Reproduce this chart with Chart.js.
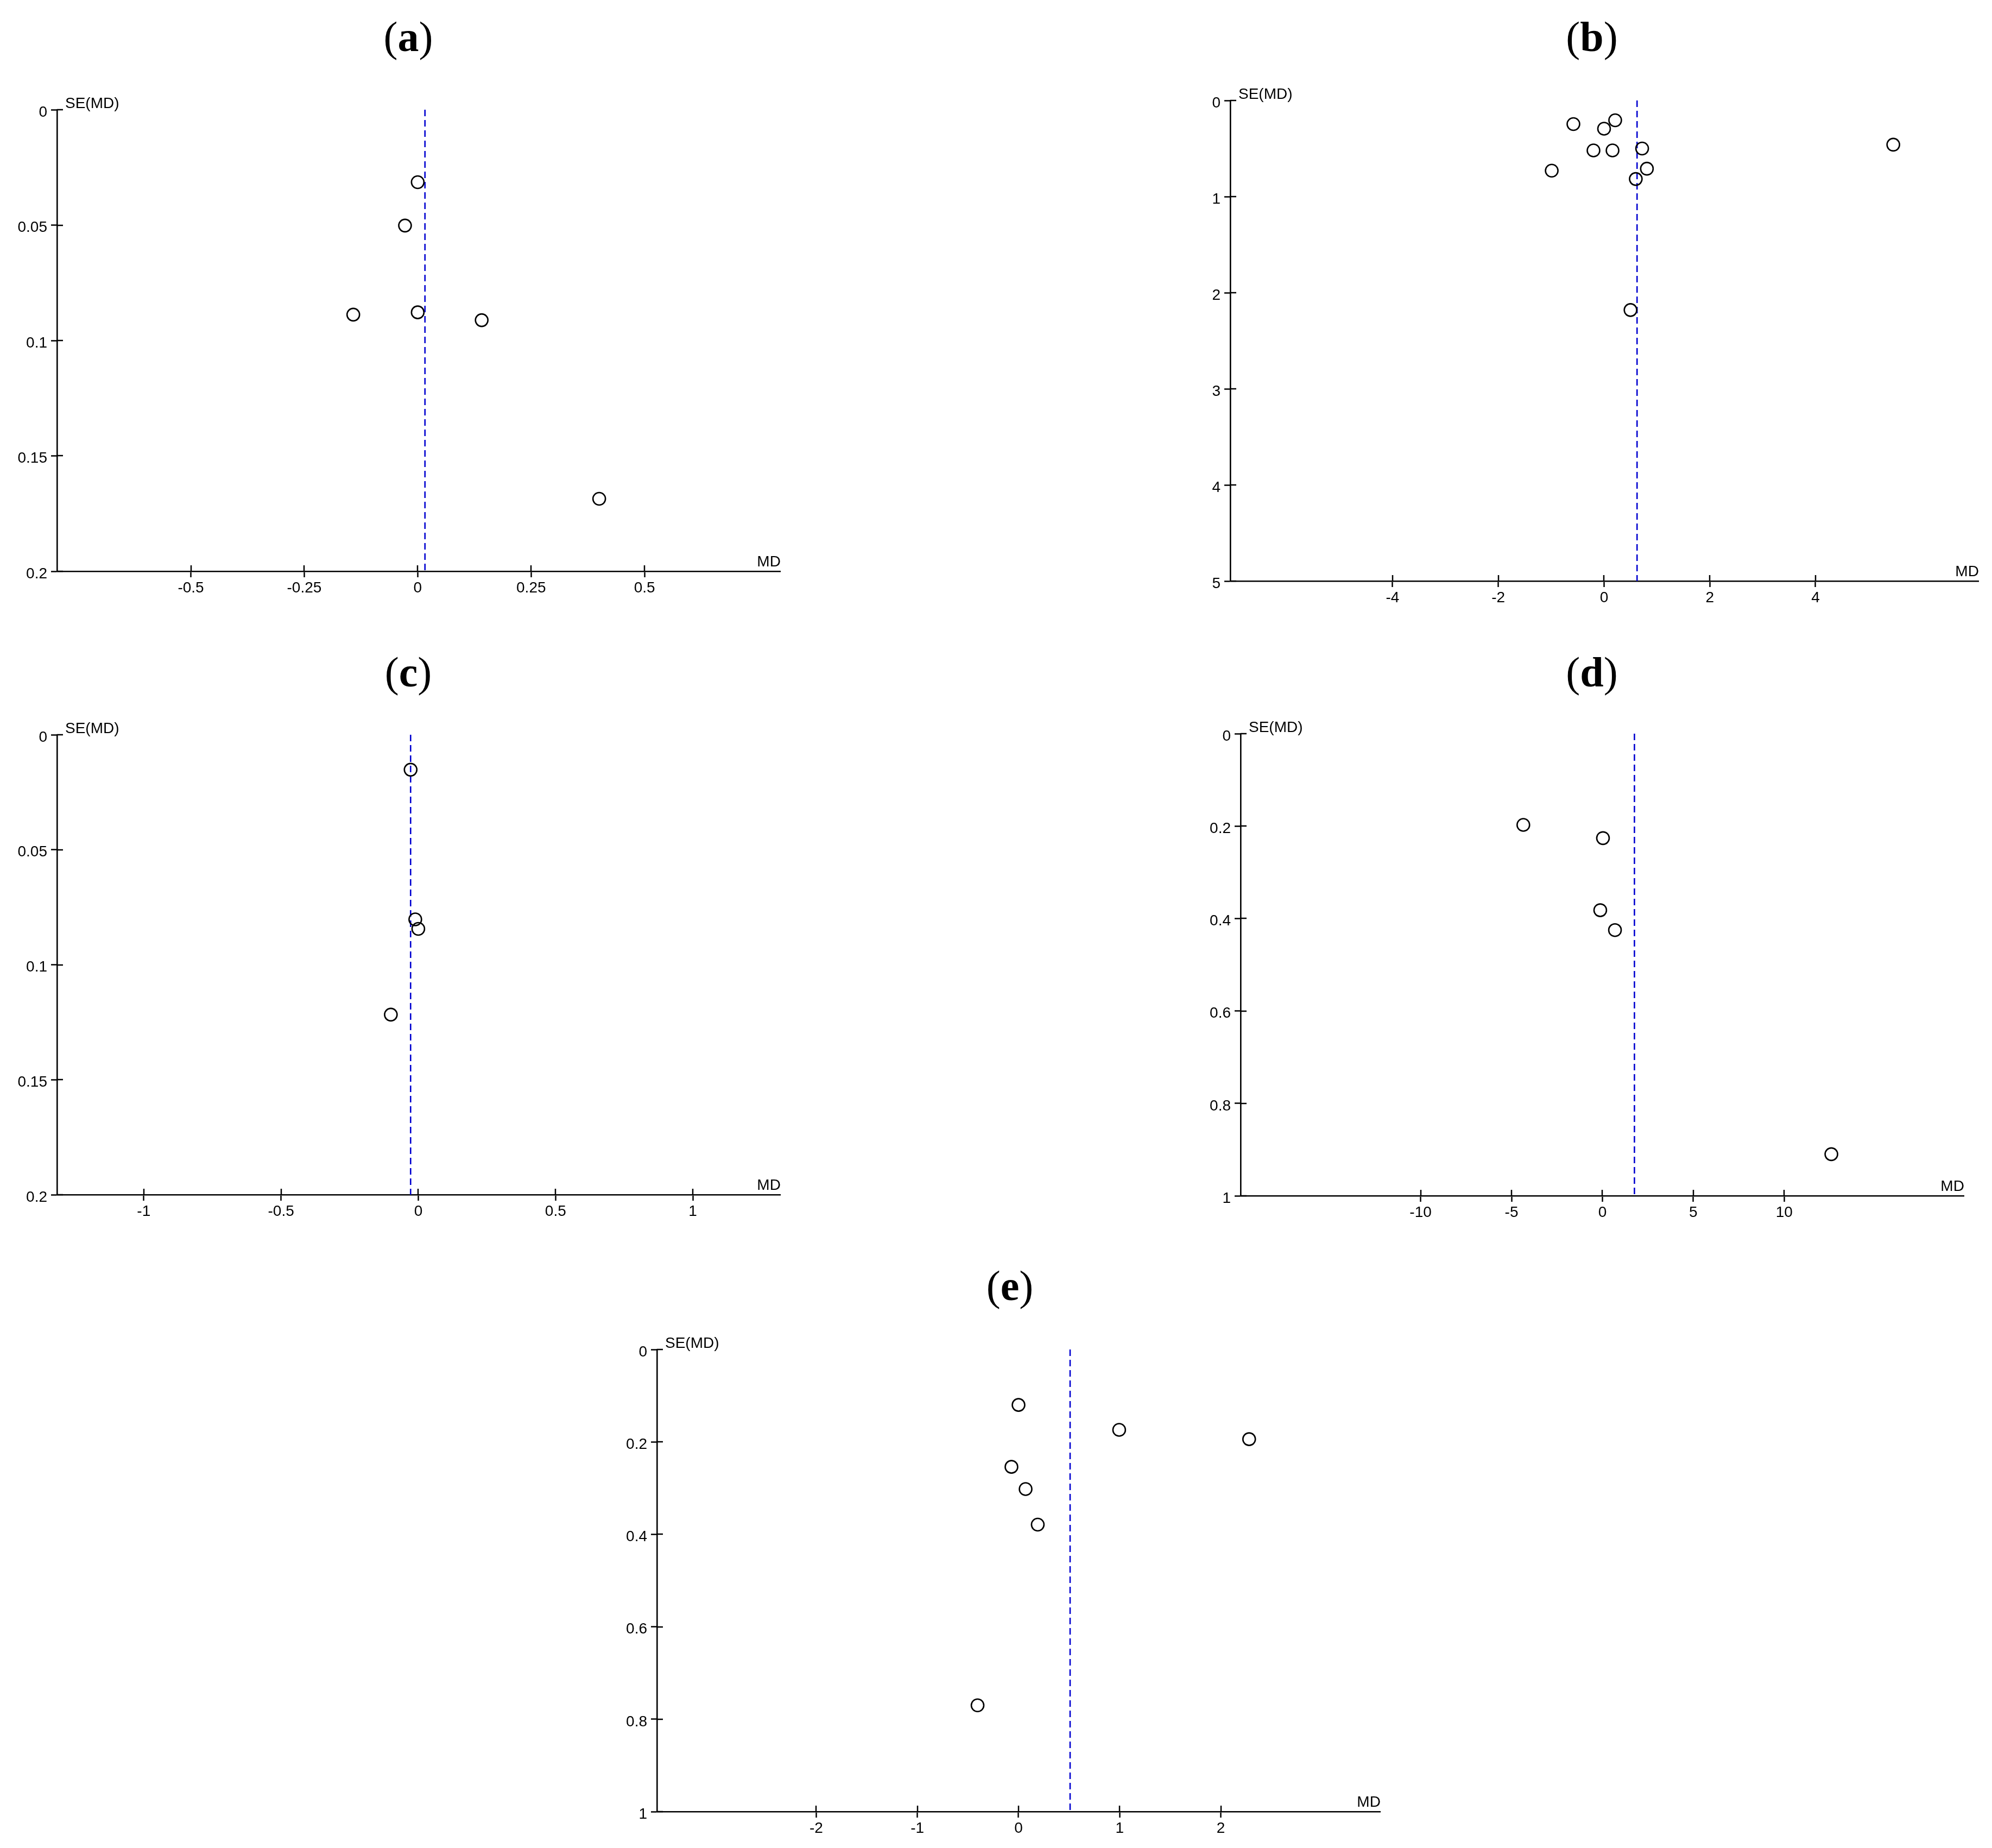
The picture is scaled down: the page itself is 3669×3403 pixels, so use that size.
<!DOCTYPE html>
<html>
<head>
<meta charset="utf-8">
<title>Funnel plots (a)-(e)</title>
<script src="https://cdn.jsdelivr.net/npm/chart.js@4.4.1/dist/chart.umd.min.js"></script>
<style>
  body { margin: 0; background: #fff; width: 3669px; height: 3403px; position: relative; overflow: hidden; }
  .title { position: absolute; font-family: 'Liberation Serif', 'Times New Roman', serif; font-size: 78px; line-height: 1; transform: translate(-50%, -50%); white-space: nowrap; color: #000; }
  .title b { font-weight: bold; }
</style>
</head>
<body>
<script>
// Panel (a)
const aMD = [0, -0.028, -0.142, 0, 0.141, 0.40];
const aSE = [0.0314, 0.0502, 0.0888, 0.0878, 0.0912, 0.1686];
const aPooled = 0.016;
const aXTicks = [-0.5, -0.25, 0, 0.25, 0.5];
const aYTicks = [0, 0.05, 0.1, 0.15, 0.2];

// Panel (b)
const bMD = [-0.58, 0, 0.21, -0.2, 0.16, 0.72, -0.99, 0.81, 0.6, 0.5, 5.47];
const bSE = [0.246, 0.294, 0.206, 0.52, 0.52, 0.5, 0.73, 0.71, 0.817, 2.18, 0.46];
const bPooled = 0.624;
const bXTicks = [-4, -2, 0, 2, 4];
const bYTicks = [0, 1, 2, 3, 4, 5];

// Panel (c)
const cMD = [-0.028, -0.011, 0, -0.1];
const cSE = [0.0152, 0.0803, 0.0844, 0.1217];
const cPooled = -0.028;
const cXTicks = [-1, -0.5, 0, 0.5, 1];
const cYTicks = [0, 0.05, 0.1, 0.15, 0.2];

// Panel (d)
const dMD = [-4.35, 0.03, -0.12, 0.69, 12.59];
const dSE = [0.1975, 0.226, 0.382, 0.425, 0.91];
const dPooled = 1.76;
const dXTicks = [-10, -5, 0, 5, 10];
const dYTicks = [0, 0.2, 0.4, 0.6, 0.8, 1];

// Panel (e)
const eMD = [0, 0.995, 2.28, -0.07, 0.07, 0.19, -0.405];
const eSE = [0.12, 0.174, 0.194, 0.254, 0.302, 0.379, 0.77];
const ePooled = 0.51;
const eXTicks = [-2, -1, 0, 1, 2];
const eYTicks = [0, 0.2, 0.4, 0.6, 0.8, 1];

const TICK_FONT = "'Liberation Sans', Arial, sans-serif";
const PAD_L = 90, PAD_T = 45, PAD_R = 12, PAD_B = 70;

// plot box = [left, top, right, bottom] of the axes on the page, x range of the MD axis
const panels = [
  { letter: 'a', md: aMD, se: aSE, pooled: aPooled, xTicks: aXTicks, yTicks: aYTicks,
    box: [105, 202, 1440, 1052], xMin: -0.795, xMax: 0.8, title: [752, 68] },
  { letter: 'b', md: bMD, se: bSE, pooled: bPooled, xTicks: bXTicks, yTicks: bYTicks,
    box: [2266, 185, 3647, 1070], xMin: -7.07, xMax: 7.09, title: [2932, 68] },
  { letter: 'c', md: cMD, se: cSE, pooled: cPooled, xTicks: cXTicks, yTicks: cYTicks,
    box: [105, 1353, 1440, 2200], xMin: -1.316, xMax: 1.32, title: [752, 1238] },
  { letter: 'd', md: dMD, se: dSE, pooled: dPooled, xTicks: dXTicks, yTicks: dYTicks,
    box: [2285, 1351, 3620, 2202], xMin: -19.9, xMax: 19.9, title: [2932, 1238] },
  { letter: 'e', md: eMD, se: eSE, pooled: ePooled, xTicks: eXTicks, yTicks: eYTicks,
    box: [1210, 2485, 2545, 3336], xMin: -3.575, xMax: 3.58, title: [1860, 2368] }
];

// short ticks on the inner side of both axes plus the axis names
const axisExtras = {
  id: 'axisExtras',
  afterDraw(chart) {
    const { ctx, chartArea, scales: { x, y } } = chart;
    ctx.save();
    ctx.strokeStyle = '#000';
    ctx.lineWidth = 2.5;
    ctx.beginPath();
    x.ticks.forEach(t => {
      const px = Math.round(x.getPixelForValue(t.value));
      ctx.moveTo(px, chartArea.bottom);
      ctx.lineTo(px, chartArea.bottom - 11);
    });
    y.ticks.forEach(t => {
      const py = Math.round(y.getPixelForValue(t.value));
      ctx.moveTo(chartArea.left, py);
      ctx.lineTo(chartArea.left + 11, py);
    });
    ctx.stroke();

    ctx.fillStyle = '#000';
    ctx.font = '28px ' + TICK_FONT;
    ctx.textBaseline = 'alphabetic';
    ctx.textAlign = 'left';
    ctx.fillText('SE(MD)', chartArea.left + 15, chartArea.top - 3);
    ctx.textAlign = 'right';
    ctx.fillText('MD', chartArea.right, chartArea.bottom - 9);
    ctx.restore();
  }
};

function makePanel(p) {
  const [left, top, right, bottom] = p.box;
  const w = right - left + PAD_L + PAD_R;
  const h = bottom - top + PAD_T + PAD_B;

  const canvas = document.createElement('canvas');
  canvas.width = w;
  canvas.height = h;
  canvas.style.cssText = `position:absolute;left:${left - PAD_L}px;top:${top - PAD_T}px;width:${w}px;height:${h}px`;
  document.body.appendChild(canvas);

  const title = document.createElement('div');
  title.className = 'title';
  title.style.left = p.title[0] + 'px';
  title.style.top = p.title[1] + 'px';
  title.innerHTML = `(<b>${p.letter}</b>)`;
  document.body.appendChild(title);

  const yMax = p.yTicks[p.yTicks.length - 1];

  new Chart(canvas, {
    type: 'scatter',
    data: {
      datasets: [
        {
          data: p.md.map((v, i) => ({ x: v, y: p.se[i] })),
          pointRadius: 11.5,
          pointHoverRadius: 11.5,
          pointStyle: 'circle',
          borderColor: '#000',
          borderWidth: 2.6,
          backgroundColor: 'rgba(0,0,0,0)'
        },
        {
          data: [{ x: p.pooled, y: 0 }, { x: p.pooled, y: yMax }],
          showLine: true,
          borderColor: '#0000d0',
          borderWidth: 2.6,
          borderDash: [12, 7],
          pointRadius: 0,
          fill: false
        }
      ]
    },
    options: {
      responsive: false,
      animation: false,
      devicePixelRatio: 1,
      layout: { padding: { top: PAD_T, right: PAD_R, left: 0, bottom: 0 } },
      plugins: { legend: { display: false }, tooltip: { enabled: false } },
      scales: {
        x: {
          type: 'linear',
          min: p.xMin,
          max: p.xMax,
          afterBuildTicks: s => { s.ticks = p.xTicks.map(v => ({ value: v })); },
          afterFit: s => { s.height = PAD_B; },
          grid: { drawOnChartArea: false, tickLength: 11, tickWidth: 2.5, tickColor: '#000' },
          border: { color: '#000', width: 2.6 },
          ticks: {
            color: '#000',
            font: { family: TICK_FONT, size: 28 },
            padding: 3,
            maxRotation: 0,
            autoSkip: false,
            callback: v => String(v)
          }
        },
        y: {
          type: 'linear',
          reverse: true,
          min: 0,
          max: yMax,
          afterBuildTicks: s => { s.ticks = p.yTicks.map(v => ({ value: v })); },
          afterFit: s => { s.width = PAD_L; },
          grid: { drawOnChartArea: false, tickLength: 11, tickWidth: 2.5, tickColor: '#000' },
          border: { color: '#000', width: 2.6 },
          ticks: {
            color: '#000',
            font: { family: TICK_FONT, size: 28 },
            padding: 7,
            labelOffset: 5,
            autoSkip: false,
            callback: v => String(v)
          }
        }
      }
    },
    plugins: [axisExtras]
  });
}

panels.forEach(makePanel);
</script>
</body>
</html>
